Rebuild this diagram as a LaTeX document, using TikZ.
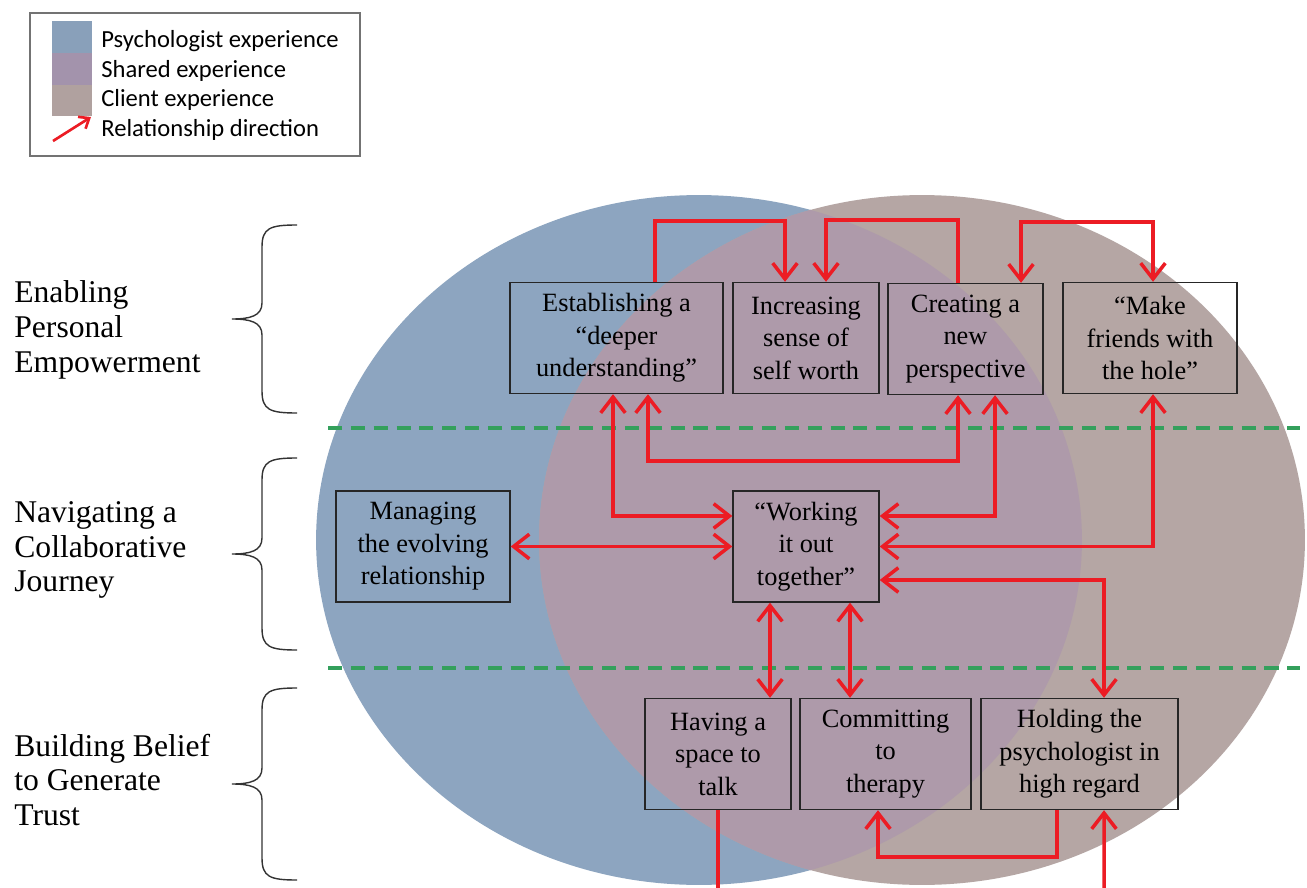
\documentclass[tikz,border=0pt]{standalone}
\usepackage{fontspec}
\setmainfont{Liberation Serif}
\newfontfamily\legendfont{Carlito}
\usetikzlibrary{arrows.meta,calc}

\definecolor{psych}{RGB}{141,165,192}
\definecolor{shared}{RGB}{174,154,170}
\definecolor{client}{RGB}{181,166,164}
\definecolor{keyshared}{RGB}{163,147,172}
\definecolor{relred}{RGB}{236,28,36}
\definecolor{divgreen}{RGB}{52,160,92}

\begin{document}
\begin{tikzpicture}[x=0.02cm, y=-0.02cm,
	box/.style={draw=black!85, line width=0.8pt, minimum height=2.22cm, inner sep=0pt, align=center, font=\fontsize{15}{18.5}\selectfont},
	theme/.style={anchor=west, align=left, inner sep=0pt, font=\fontsize{18}{19.8}\selectfont},
	key/.style={anchor=west, inner sep=0pt, font=\legendfont\fontsize{14}{16}\selectfont},
	relline/.style={draw=relred, line width=2pt},
	rel/.style={relline, -{Straight Barb[length=9pt,width=14pt]}},
	relboth/.style={relline, {Straight Barb[length=9pt,width=14pt]}-{Straight Barb[length=9pt,width=14pt]}},
	divider/.style={draw=divgreen, line width=2pt, dash pattern=on 8pt off 5pt}]
	\clip (0,0) rectangle (1307,888);
	\fill[white] (0,0) rectangle (1307,888);

	\fill[psych] (699,540) ellipse [x radius=7.66cm, y radius=6.9cm];
	\fill[client] (922,540) ellipse [x radius=7.66cm, y radius=6.9cm];
	\begin{scope}
		\clip (699,540) ellipse [x radius=7.66cm, y radius=6.9cm];
		\fill[shared] (922,540) ellipse [x radius=7.66cm, y radius=6.9cm];
	\end{scope}

	\draw[black!55, line width=0.6pt] (30,13) rectangle (360,156);
	\fill[psych!97!black] (52,21) rectangle (92,53);
	\fill[keyshared] (52,53) rectangle (92,85);
	\fill[client!97!black] (52,85) rectangle (92,116);
	\node[key] at (101,41) (kpsy) {Psychologist experience};
	\node[key] at (101,71) (kshr) {Shared experience};
	\node[key] at (101,100) (kcli) {Client experience};
	\node[key] at (101,130) (krel) {Relationship direction};
	\coordinate (ktail) at (53,141);
	\coordinate (khead) at (91,117);
	\draw[relline, line width=1.5pt, -{Straight Barb[length=5pt,width=8pt]}] (ktail) -- (khead);

	\node[theme] at (14,330) (enable) {Enabling\\Personal\\Empowerment};
	\node[theme] at (14,550) (navig) {Navigating a\\Collaborative\\Journey};
	\node[theme] at (14,780) (build) {Building Belief\\to Generate\\Trust};
	\foreach \t/\b in {225/413, 458/650, 688/880}
		\draw[black!80, line width=0.8pt] (297,\t) .. controls (270,\t) and (262,\t+3) .. (262,\t+22)
			-- (262,{(\t+\b)/2-16}) .. controls (262,{(\t+\b)/2-3}) and (250,{(\t+\b)/2}) .. (232,{(\t+\b)/2})
			.. controls (250,{(\t+\b)/2}) and (262,{(\t+\b)/2+3}) .. (262,{(\t+\b)/2+16})
			-- (262,\b-22) .. controls (262,\b-3) and (270,\b) .. (297,\b);

	\draw[divider] (328,428) -- (1300,428);
	\draw[divider] (328,668) -- (1300,668);

	\node[box, minimum width=4.26cm] at (616.5,338) (est) {Establishing a\\“deeper\\understanding”};
	\node[box, minimum width=2.92cm] at (806,338) (inc) {Increasing\\sense of\\self worth};
	\node[box, minimum width=3.10cm] at (965.5,339) (cre) {Creating a\\new\\perspective};
	\node[box, minimum width=3.48cm] at (1150,338) (mak) {“Make\\friends with\\the hole”};
	\node[box, minimum width=3.48cm] at (423,546.5) (man) {Managing\\the evolving\\relationship};
	\node[box, minimum width=2.92cm] at (806,546.5) (wor) {“Working\\it out\\together”};
	\node[box, minimum width=2.92cm] at (718,754) (hav) {Having a\\space to\\talk};
	\node[box, minimum width=3.42cm] at (885.5,754) (com) {Committing\\to\\therapy};
	\node[box, minimum width=3.94cm] at (1079.5,754) (hol) {Holding the\\psychologist in\\high regard};

	\draw[rel] ($(est.north)+(38.5,0)$) -- ++(0,-61) -| ($(inc.north)+(-21,0)$);
	\draw[rel] ($(cre.north)+(-7.5,0)$) -- ++(0,-63) -| ($(inc.north)+(20,0)$);
	\draw[relboth] ($(cre.north)+(55.5,0)$) -- ++(0,-61) -| ($(mak.north)+(3,0)$);
	\draw[relboth] ($(wor.west)+(0,-30.5)$) -| ($(est.south)+(-3.5,0)$);
	\draw[relboth] ($(est.south)+(31.5,0)$) -- ++(0,67) -| ($(cre.south)+(-7.5,0)$);
	\draw[relboth] ($(cre.south)+(29.5,0)$) |- ($(wor.east)+(0,-30.5)$);
	\draw[relboth] ($(mak.south)+(3,0)$) |- (wor.east);
	\draw[relboth] ($(wor.east)+(0,33.5)$) -| ($(hol.north)+(24.5,0)$);
	\draw[relboth] (man.east) -- (wor.west);
	\draw[relboth] ($(wor.south)+(-36,0)$) -- ($(hav.north)+(52,0)$);
	\draw[relboth] ($(wor.south)+(44,0)$) -- ($(com.north)+(-35.5,0)$);
	\draw[rel] ($(hol.south)+(-22.5,0)$) -- ++(0,47) -| ($(com.south)+(-7.5,0)$);
	\coordinate (talkout) at (718,900);
	\coordinate (regardin) at (1104,900);
	\draw[relline] (hav.south) -- (talkout);
	\draw[rel] (regardin) -- ($(hol.south)+(24.5,0)$);
\end{tikzpicture}
\end{document}
